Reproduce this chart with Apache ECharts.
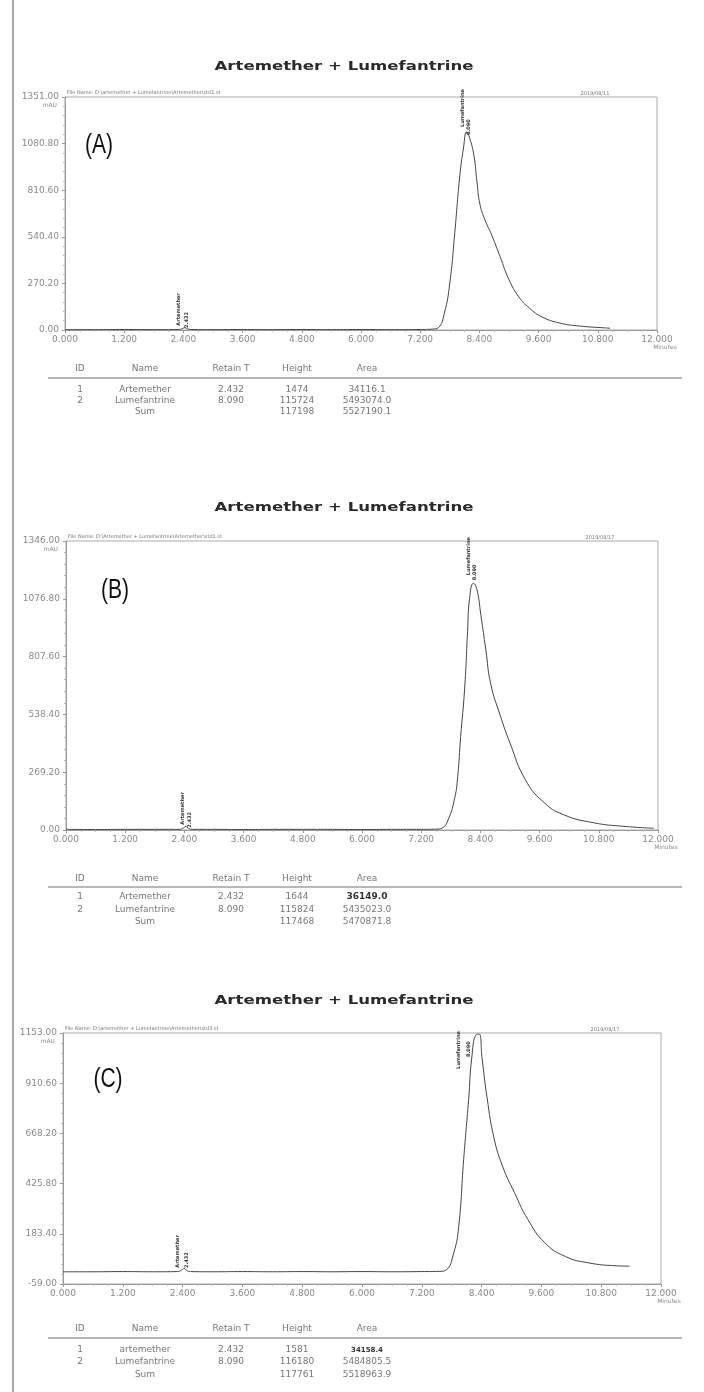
<!DOCTYPE html>
<html><head><meta charset="utf-8">
<script src="https://cdn.jsdelivr.net/npm/echarts@6/dist/echarts.min.js"></script>
<style>html,body{margin:0;padding:0;background:#fff}#c{width:704px;height:1392px}</style>
</head><body><div id="c"></div>
<script>
// ---------- data ----------
const panelTitle = 'Artemether + Lumefantrine';
const panelLetters = ['(A)', '(B)', '(C)'];
const xTickStep = 1.2;

const timeA = [0,0.6,1.2,1.8,2.3,2.38,2.432,2.48,2.56,3.0,3.6,4.2,4.8,5.4,6.0,6.6,7.2,7.45,7.57,7.69,7.8,7.9,8.0,8.08,8.14,8.2,8.29,8.35,8.41,8.51,8.65,8.82,9.0,9.2,9.41,9.67,10.02,10.43,10.96,11.05];
const signalA = [2,2,3,2,3,8,14,7,3,2,3,2,3,2,3,2,3,5,14,98,272,562,887,1061,1148,1115,1010,860,730,640,550,425,292,192,128,76,41,23,12,10];

const timeB = [0,0.6,1.2,1.8,2.3,2.38,2.432,2.48,2.56,3.0,3.6,4.2,4.8,5.4,6.0,6.6,7.2,7.5,7.63,7.75,7.88,7.94,8.0,8.08,8.14,8.18,8.26,8.33,8.41,8.51,8.61,8.8,9.0,9.31,9.67,10.08,10.69,11.31,11.92];
const signalB = [3,2,3,3,3,10,17,8,3,3,2,3,3,3,2,3,3,4,10,50,150,250,436,657,924,1079,1149,1120,1000,840,680,535,405,235,132,72,34,17,8];

const timeC = [0,0.6,1.2,1.8,2.3,2.38,2.432,2.48,2.56,3.0,3.6,4.2,4.8,5.4,6.0,6.6,7.2,7.55,7.69,7.84,7.94,8.04,8.14,8.2,8.29,8.35,8.41,8.51,8.65,8.82,9.06,9.33,9.67,10.08,10.55,11.1,11.37];
const signalC = [0,0,1,0,1,8,16,7,1,0,1,0,1,0,1,0,1,2,9,91,217,542,833,1027,1145,1148,1030,840,645,510,382,252,140,74,43,29,27];

// y-axis ranges (mAU): min, max, step
const yRangeA = [0, 1351, 270.2];
const yRangeB = [0, 1346, 269.2];
const yRangeC = [-59, 1153, 242.4];

// peak annotations (name, retention time, signal where text starts)
const peakLabelsA = [['Artemether',2.31,25],['2.432',2.46,12],['Lumefantrine',8.06,1177],['8.090',8.18,1130]];
const peakLabelsB = [['Artemether',2.36,25],['2.432',2.5,10],['Lumefantrine',8.16,1187],['8.090',8.28,1163]];
const peakLabelsC = [['Artemether',2.31,20],['2.432',2.49,18],['Lumefantrine',7.94,979],['8.090',8.14,1037]];

const fileNames = ['File Name: D:\\artemether + Lumefantrine\\Artemether\\std1.st',
                   'File Name: D:\\Artemether + Lumefantrine\\Artemether\\std1.st',
                   'File Name: D:\\artemether + Lumefantrine\\Artemether\\std3.st'];
const runDates = ['2019/08/11', '2019/08/17', '2019/08/17'];

const tableHeader = ['ID', 'Name', 'Retain T', 'Height', 'Area'];
const tableA = [['1','Artemether','2.432','1474','34116.1'],['2','Lumefantrine','8.090','115724','5493074.0'],['','Sum','','117198','5527190.1']];
const tableB = [['1','Artemether','2.432','1644','36149.0'],['2','Lumefantrine','8.090','115824','5435023.0'],['','Sum','','117468','5470871.8']];
const tableC = [['1','artemether','2.432','1581','34158.4'],['2','Lumefantrine','8.090','116180','5484805.5'],['','Sum','','117761','5518963.9']];

// ---------- layout ----------
const panels = [
  {grid:{left:65, top:97, width:592, height:233}, t:timeA, s:signalA, y:yRangeA, lab:peakLabelsA, table:tableA,
   titleY:67, letter:[99,146], fileY:93, dateX:595, tHead:369, tLine:378, tRows:[390,401,412]},
  {grid:{left:66, top:541, width:592, height:289}, t:timeB, s:signalB, y:yRangeB, lab:peakLabelsB, table:tableB,
   titleY:508, letter:[115,591], fileY:537, dateX:600, tHead:879, tLine:887, tRows:[897,910,922]},
  {grid:{left:63, top:1033, width:598, height:251}, t:timeC, s:signalC, y:yRangeC, lab:peakLabelsC, table:tableC,
   titleY:1001, letter:[108,1080], fileY:1029, dateX:605, tHead:1329, tLine:1338, tRows:[1350,1362,1375]}
];
const colX = [80, 145, 231, 297, 367];
const FONT = '"DejaVu Sans", "Liberation Sans", sans-serif';

const grids = [], xAxes = [], yAxes = [], series = [], graphics = [];
graphics.push({type:'line', shape:{x1:13,y1:0,x2:13,y2:1392}, style:{stroke:'#a8a8a8', lineWidth:2}, silent:true});

panels.forEach((p, i) => {
  grids.push(Object.assign({show:true, borderColor:'#aaa', borderWidth:1, backgroundColor:'transparent'}, p.grid));
  xAxes.push({
    type:'value', gridIndex:i, min:0, max:12, interval:xTickStep,
    axisLine:{show:true, onZero:false, lineStyle:{color:'#9a9a9a', width:1}},
    axisTick:{show:true, length:3, lineStyle:{color:'#9a9a9a'}},
    minorTick:{show:true, splitNumber:4, length:2, lineStyle:{color:'#bbb'}},
    splitLine:{show:false},
    axisLabel:{fontSize:9, color:'#8a8a8a', fontFamily:FONT, margin:5,
      formatter: v => Math.abs(v-12) < 1e-6 ? '{a|12.000}\n{m|Minutes}' : v.toFixed(3),
      rich:{a:{fontSize:9, color:'#8a8a8a', fontFamily:FONT}, m:{fontSize:6, color:'#8a8a8a', fontFamily:FONT, padding:[0,0,0,16]}}}
  });
  yAxes.push({
    type:'value', gridIndex:i, min:p.y[0], max:p.y[1], interval:p.y[2],
    axisLine:{show:true, lineStyle:{color:'#9a9a9a', width:1}},
    axisTick:{show:true, length:3, lineStyle:{color:'#9a9a9a'}},
    minorTick:{show:true, splitNumber:5, length:2, lineStyle:{color:'#bbb'}},
    splitLine:{show:false},
    axisLabel:{fontSize:9, color:'#8a8a8a', fontFamily:FONT, margin:6, formatter: v => v.toFixed(2)}
  });
  series.push({
    type:'line', xAxisIndex:i, yAxisIndex:i, showSymbol:false, smooth:0.5,
    lineStyle:{color:'#444', width:1}, animation:false, silent:true,
    data: p.t.map((t, k) => [t, p.s[k]]),
    markPoint:{
      symbol:'circle', symbolSize:1, itemStyle:{color:'rgba(0,0,0,0)'}, silent:true, animation:false,
      label:{show:true, position:'inside', rotate:90, align:'left', verticalAlign:'middle',
             fontSize:5, fontWeight:'bold', color:'#333', fontFamily:FONT, formatter:'{b}'},
      data: p.lab.map(l => ({name:l[0], coord:[l[1], l[2]]}))
    }
  });
  // title
  graphics.push({type:'text', x:344, y:p.titleY, scaleX:1.38, silent:true,
    style:{text:panelTitle, font:'bold 12px ' + FONT, fill:'#2a2a2a', textAlign:'center', textVerticalAlign:'middle'}});
  // panel letter
  graphics.push({type:'text', x:p.letter[0], y:p.letter[1], scaleX:0.78, silent:true,
    style:{text:panelLetters[i], font:'27px "Liberation Sans", sans-serif', fill:'#111', textAlign:'center', textVerticalAlign:'middle'}});
  // mAU unit under top y label
  graphics.push({type:'text', x:p.grid.left - 8, y:p.grid.top + 8, silent:true,
    style:{text:'mAU', font:'6px ' + FONT, fill:'#8a8a8a', textAlign:'right', textVerticalAlign:'middle'}});
  // file name & date
  graphics.push({type:'text', x:p.grid.left + 2, y:p.fileY, silent:true,
    style:{text:fileNames[i], font:'5px ' + FONT, fill:'#777', textAlign:'left', textVerticalAlign:'middle'}});
  graphics.push({type:'text', x:p.dateX, y:p.fileY + 1, silent:true,
    style:{text:runDates[i], font:'5px ' + FONT, fill:'#777', textAlign:'center', textVerticalAlign:'middle'}});
  // table
  tableHeader.forEach((h, c) => graphics.push({type:'text', x:colX[c], y:p.tHead, silent:true,
    style:{text:h, font:'9px ' + FONT, fill:'#777', textAlign:'center', textVerticalAlign:'middle'}}));
  graphics.push({type:'line', shape:{x1:48, y1:p.tLine, x2:682, y2:p.tLine}, silent:true, style:{stroke:'#a0a0a0', lineWidth:1.5}});
  p.table.forEach((row, r) => row.forEach((cell, c) => {
    const bold = (i > 0 && r === 0 && c === 4);
    graphics.push({type:'text', x:colX[c], y:p.tRows[r], silent:true,
      style:{text:cell, font:(bold ? 'bold ' : '') + (bold && i === 2 ? '7px ' : '9px ') + FONT,
             fill: bold ? '#333' : '#777', textAlign:'center', textVerticalAlign:'middle'}});
  }));
});

const chart = echarts.init(document.getElementById('c'), null, {renderer:'canvas'});
chart.setOption({animation:false, backgroundColor:'#fff', grid:grids, xAxis:xAxes, yAxis:yAxes, series:series, graphic:graphics});
</script></body></html>
